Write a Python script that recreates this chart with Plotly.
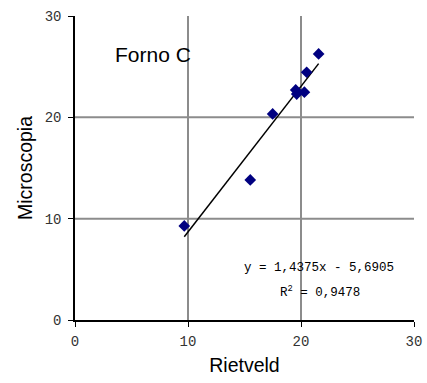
import plotly.graph_objects as go

rietveld = [9.67, 15.51, 17.49, 19.53, 19.62, 20.30, 20.50, 21.56]
microscopia = [9.28, 13.82, 20.34, 22.70, 22.30, 22.48, 24.45, 26.26]
slope = 1.4375
intercept = -5.6905
r2_text = "0,9478"
tick_vals = [0, 10, 20, 30]
tick_text = ["0", "10", "20", "30"]
grid_vals = [10, 20]

x_min, x_max = min(rietveld), max(rietveld)

fig = go.Figure()
fig.add_trace(go.Scatter(
    x=[x_min, x_max],
    y=[slope * x_min + intercept, slope * x_max + intercept],
    mode="lines", line=dict(color="black", width=1.5),
    showlegend=False, hoverinfo="skip"))
fig.add_trace(go.Scatter(
    x=rietveld, y=microscopia, mode="markers",
    marker=dict(symbol="diamond", color="#000080", size=9),
    showlegend=False))

for g in grid_vals:
    fig.add_shape(type="line", xref="x", yref="y", x0=g, x1=g, y0=0, y1=30,
                  line=dict(color="#8c8c8c", width=2), layer="below")
    fig.add_shape(type="line", xref="x", yref="y", x0=0, x1=30, y0=g, y1=g,
                  line=dict(color="#8c8c8c", width=2), layer="below")

# plot area: x 75..414, y 16..320
fig.add_annotation(x=(113 - 75) / 339, y=(320 - 54) / 304, xref="paper", yref="paper",
                   text="Forno C", showarrow=False, xanchor="left", yanchor="middle",
                   font=dict(family="Liberation Sans", size=21, color="black"))
fig.add_annotation(x=(396 - 75) / 339, y=(320 - 268) / 304, xref="paper", yref="paper",
                   text="y = 1,4375x - 5,6905", showarrow=False,
                   xanchor="right", yanchor="middle",
                   font=dict(family="Liberation Mono", size=12.5, color="black"))
fig.add_annotation(x=(320 - 75) / 339, y=(320 - 292) / 304, xref="paper", yref="paper",
                   text="R<sup>2</sup> = " + r2_text, showarrow=False,
                   xanchor="center", yanchor="middle",
                   font=dict(family="Liberation Mono", size=12.5, color="black"))

axis_common = dict(range=[0, 30], tickvals=tick_vals, ticktext=tick_text,
                   showgrid=False, zeroline=False, showline=True, automargin=False,
                   linecolor="black", linewidth=1.5, ticks="outside",
                   ticklen=5, tickcolor="black", tickwidth=1,
                   tickfont=dict(family="Liberation Mono", size=14, color="#333333"))

fig.update_layout(
    width=427, height=383,
    margin=dict(l=75, r=13, t=16, b=63),
    paper_bgcolor="white", plot_bgcolor="white",
    xaxis=dict(**axis_common, ticklabelstandoff=2,
               title=dict(text="Rietveld", standoff=10,
                          font=dict(family="Liberation Sans", size=19.5, color="black"))),
    yaxis=dict(**axis_common, ticklabelstandoff=4,
               title=dict(text="Microscopia", standoff=7,
                          font=dict(family="Liberation Sans", size=19.5, color="black"))),
)

fig.write_html("out.html")
